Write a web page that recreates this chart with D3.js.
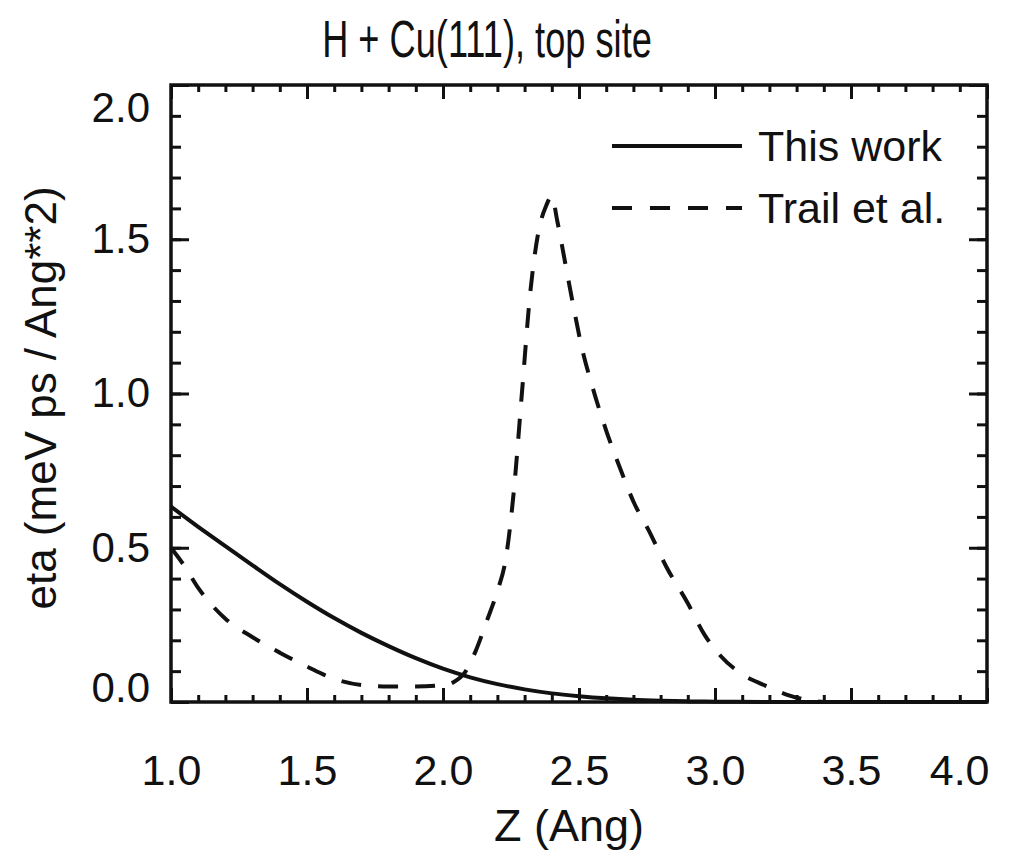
<!DOCTYPE html>
<html>
<head>
<meta charset="utf-8">
<script src="https://cdn.jsdelivr.net/npm/d3@7"></script>
<style>
  html, body { margin: 0; padding: 0; background: #fff; }
  svg { display: block; }
  text { font-family: "Liberation Sans", Arial, Helvetica, sans-serif; fill: #111; }
</style>
</head>
<body>
<svg id="chart" width="1021" height="858"></svg>
<script>
// Electronic friction coefficient for H above the Cu(111) top site
const titleText = "H + Cu(111), top site";
const xLabel = "Z (Ang)";
const yLabel = "eta (meV ps / Ang**2)";
const seriesNames = ["This work", "Trail et al."];

const xTicks = [1.0, 1.5, 2.0, 2.5, 3.0, 3.5, 4.0];
const yTicks = [0.0, 0.5, 1.0, 1.5, 2.0];

// This work
const zThis = [1.0, 1.1, 1.2, 1.3, 1.4, 1.5, 1.6, 1.7, 1.8, 1.9, 2.0, 2.1, 2.2, 2.3, 2.4, 2.5, 2.6, 2.7, 2.8, 2.9, 3.0, 3.2, 3.5, 4.0];
const etaThis = [0.633, 0.568, 0.505, 0.443, 0.382, 0.325, 0.272, 0.224, 0.181, 0.142, 0.108, 0.080, 0.058, 0.041, 0.028, 0.019, 0.012, 0.007, 0.004, 0.002, 0.001, 0.0003, 0.0, 0.0];

// Trail et al.
const zTrail = [1.0, 1.05, 1.1, 1.2, 1.3, 1.4, 1.5, 1.6, 1.7, 1.8, 1.9, 2.0, 2.04, 2.08, 2.12, 2.16, 2.2, 2.23, 2.26, 2.29, 2.32, 2.35, 2.38, 2.4, 2.42, 2.45, 2.48, 2.51, 2.55, 2.6, 2.65, 2.7, 2.76, 2.82, 2.9, 2.96, 3.02, 3.1, 3.18, 3.26, 3.35, 3.4];
const etaTrail = [0.5, 0.44, 0.37, 0.27, 0.21, 0.16, 0.115, 0.075, 0.055, 0.05, 0.05, 0.055, 0.065, 0.095, 0.165, 0.26, 0.36, 0.46, 0.68, 1.0, 1.32, 1.52, 1.61, 1.64, 1.56, 1.42, 1.28, 1.15, 1.02, 0.88, 0.76, 0.65, 0.55, 0.44, 0.32, 0.22, 0.15, 0.09, 0.055, 0.025, 0.005, 0.0];

const margin = { left: 171, right: 34, top: 85, bottom: 156 };
const W = 1021, H = 858;
const iw = W - margin.left - margin.right;
const ih = H - margin.top - margin.bottom;

const svg = d3.select("#chart");
const g = svg.append("g").attr("transform", `translate(${margin.left},${margin.top})`);

const x = d3.scaleLinear().domain([1.0, 4.0]).range([0, iw]);
const y = d3.scaleLinear().domain([0.0, 2.0]).range([ih, 0]);

const xMinor = d3.range(1.0, 4.0001, 0.1);
const yMinor = d3.range(0.0, 2.0001, 0.1);

function styleAxis(sel) {
  sel.select(".domain").remove();
  sel.selectAll(".tick line").attr("stroke", "#111").attr("stroke-width", 3);
}

// Minor ticks on all four sides
g.append("g").attr("transform", `translate(0,${ih})`)
  .call(d3.axisBottom(x).tickValues(xMinor).tickSize(-7).tickFormat(""))
  .call(styleAxis);
g.append("g")
  .call(d3.axisTop(x).tickValues(xMinor).tickSize(-7).tickFormat(""))
  .call(styleAxis);
g.append("g")
  .call(d3.axisLeft(y).tickValues(yMinor).tickSize(-10).tickFormat(""))
  .call(styleAxis);
g.append("g").attr("transform", `translate(${iw},0)`)
  .call(d3.axisRight(y).tickValues(yMinor).tickSize(-10).tickFormat(""))
  .call(styleAxis);

// Major ticks with labels
const xAxis = g.append("g").attr("transform", `translate(0,${ih})`)
  .call(d3.axisBottom(x).tickValues(xTicks).tickSize(-14).tickPadding(52).tickFormat(d3.format(".1f")))
  .call(styleAxis);
xAxis.selectAll(".tick text").attr("font-size", 43).attr("font-family", null).attr("fill", "#111");
xAxis.selectAll(".tick").filter(d => d === 4.0).select("text").attr("text-anchor", "end").attr("dx", 2);

g.append("g")
  .call(d3.axisTop(x).tickValues(xTicks).tickSize(-14).tickFormat(""))
  .call(styleAxis);

const yAxis = g.append("g")
  .call(d3.axisLeft(y).tickValues(yTicks).tickSize(-18).tickPadding(21).tickFormat(d3.format(".1f")))
  .call(styleAxis);
yAxis.selectAll(".tick text").attr("font-size", 42).attr("font-family", null).attr("fill", "#111");
yAxis.selectAll(".tick").filter(d => d === 2.0).select("text").attr("transform", "translate(0,23)");
yAxis.selectAll(".tick").filter(d => d === 0.0).select("text").attr("transform", "translate(0,-14)");

g.append("g").attr("transform", `translate(${iw},0)`)
  .call(d3.axisRight(y).tickValues(yTicks).tickSize(-18).tickFormat(""))
  .call(styleAxis);

// Frame
g.append("rect").attr("x", 0).attr("y", 0).attr("width", iw).attr("height", ih)
  .attr("fill", "none").attr("stroke", "#111").attr("stroke-width", 3.5);

// Curves
const lineThis = d3.line().x((d, i) => x(zThis[i])).y(d => y(d)).curve(d3.curveMonotoneX);
const lineTrail = d3.line().x((d, i) => x(zTrail[i])).y(d => y(d)).curve(d3.curveMonotoneX);

g.append("path").datum(etaThis).attr("d", lineThis)
  .attr("fill", "none").attr("stroke", "#111").attr("stroke-width", 4);
g.append("path").datum(etaTrail).attr("d", lineTrail)
  .attr("fill", "none").attr("stroke", "#111").attr("stroke-width", 4)
  .attr("stroke-dasharray", "20,17");

// Legend
const legend = svg.append("g");
const legItems = [
  { name: seriesNames[0], dash: null, y: 146 },
  { name: seriesNames[1], dash: "20,18", y: 208 }
];
legItems.forEach(it => {
  legend.append("line").attr("x1", 612).attr("x2", 742).attr("y1", it.y).attr("y2", it.y)
    .attr("stroke", "#111").attr("stroke-width", 4)
    .attr("stroke-dasharray", it.dash);
  legend.append("text").attr("x", 758).attr("y", it.y + 15).attr("font-size", 43).text(it.name);
});

// Titles
svg.append("text").attr("transform", "translate(487,57) scale(0.71,1)").attr("text-anchor", "middle")
  .attr("font-size", 51).text(titleText);
svg.append("text").attr("x", 569).attr("y", 841).attr("text-anchor", "middle")
  .attr("font-size", 45).text(xLabel);
svg.append("text").attr("transform", "translate(56,398) rotate(-90)").attr("text-anchor", "middle")
  .attr("font-size", 44).text(yLabel);
</script>
</body>
</html>
